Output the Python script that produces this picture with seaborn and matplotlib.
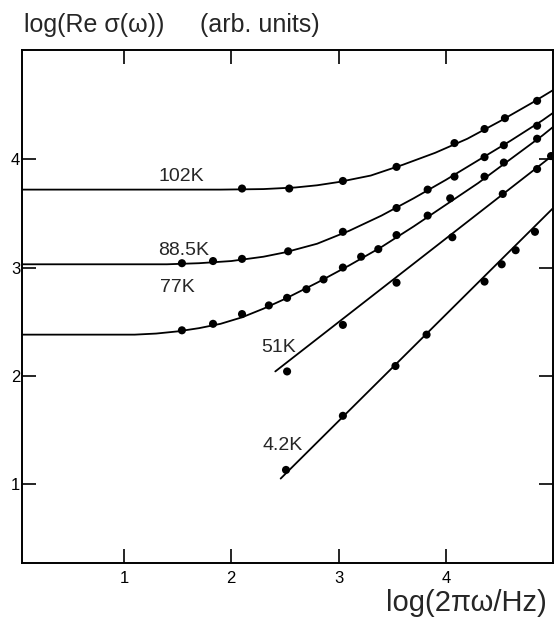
import matplotlib
matplotlib.use("Agg")
import matplotlib.pyplot as plt
import seaborn as sns

# measured points (log of angular frequency, log of conductivity)
x_102 = [2.10, 2.54, 3.04, 3.54, 4.08, 4.36, 4.55, 4.85]
y_102 = [3.73, 3.73, 3.80, 3.93, 4.15, 4.28, 4.38, 4.54]

x_885 = [1.54, 1.83, 2.10, 2.53, 3.04, 3.54, 3.83, 4.08, 4.36, 4.54, 4.85]
y_885 = [3.04, 3.06, 3.08, 3.15, 3.33, 3.55, 3.72, 3.84, 4.02, 4.13, 4.31]

x_77 = [1.54, 1.83, 2.10, 2.35, 2.52, 2.70, 2.86, 3.04, 3.21, 3.37, 3.54, 3.83, 4.04, 4.36, 4.54, 4.85]
y_77 = [2.42, 2.48, 2.57, 2.65, 2.72, 2.80, 2.89, 3.00, 3.10, 3.17, 3.30, 3.48, 3.64, 3.84, 3.97, 4.19]

x_51 = [2.52, 3.04, 3.54, 4.06, 4.53, 4.85, 4.98]
y_51 = [2.04, 2.47, 2.86, 3.28, 3.68, 3.91, 4.03]

x_42 = [2.51, 3.04, 3.53, 3.82, 4.36, 4.52, 4.65, 4.83]
y_42 = [1.13, 1.63, 2.09, 2.38, 2.87, 3.03, 3.16, 3.33]

# fitted curves
fx_102 = [0.05, 1.9, 2.3, 2.6, 2.8, 3.0, 3.3, 3.6, 3.9, 4.2, 4.5, 4.8, 5.0]
fy_102 = [3.72, 3.72, 3.725, 3.74, 3.76, 3.79, 3.85, 3.95, 4.06, 4.19, 4.35, 4.52, 4.64]

fx_885 = [0.05, 1.4, 1.7, 2.0, 2.3, 2.5, 2.8, 3.1, 3.4, 3.7, 4.0, 4.3, 4.6, 4.9, 5.0]
fy_885 = [3.03, 3.03, 3.04, 3.06, 3.10, 3.14, 3.22, 3.34, 3.48, 3.64, 3.81, 3.99, 4.17, 4.36, 4.43]

fx_77 = [0.05, 1.1, 1.3, 1.5, 1.7, 1.9, 2.1, 2.3, 2.5, 2.8, 3.1, 3.4, 3.7, 4.0, 4.3, 4.6, 4.9, 5.0]
fy_77 = [2.38, 2.38, 2.39, 2.41, 2.44, 2.48, 2.54, 2.62, 2.71, 2.86, 3.02, 3.19, 3.38, 3.58, 3.78, 4.00, 4.22, 4.30]

fx_51 = [2.41, 5.0]
fy_51 = [2.04, 4.04]

fx_42 = [2.46, 5.0]
fy_42 = [1.05, 3.55]

labels = ['102K', '88.5K', '77K', '51K', '4.2K']
label_x = [1.53, 1.56, 1.50, 2.44, 2.48]
label_y = [3.84, 3.16, 2.82, 2.26, 1.36]

x_ticks = [1, 2, 3, 4]
y_ticks = [1, 2, 3, 4]

sns.set_style("ticks")
plt.rcParams['font.family'] = ['Liberation Sans', 'DejaVu Sans']

fig = plt.figure(figsize=(5.56, 6.18), dpi=100)
ax = fig.add_axes([21.5 / 556, 55 / 618, (553.2 - 21.5) / 556, 513 / 618])

fits = [(fx_102, fy_102), (fx_885, fy_885), (fx_77, fy_77), (fx_51, fy_51), (fx_42, fy_42)]
for fx, fy in fits:
    sns.lineplot(x=fx, y=fy, color='black', lw=1.3, sort=False, estimator=None, ax=ax)

dots = [(x_102, y_102), (x_885, y_885), (x_77, y_77), (x_51, y_51), (x_42, y_42)]
for dx, dy in dots:
    sns.scatterplot(x=dx, y=dy, color='black', s=34, edgecolor='none', zorder=3, ax=ax)

for t, lx, ly in zip(labels, label_x, label_y):
    ax.text(lx, ly, t, fontsize=14, ha='center', va='center')

ax.set_xlim(0.045, 5.0)
ax.set_ylim(0.27, 5.01)
ax.set_xticks(x_ticks)
ax.set_yticks(y_ticks)
ax.tick_params(direction='in', length=10, width=1.2, top=True, right=True,
               labelsize=12, colors='black')
ax.tick_params(axis='y', pad=1)
ax.tick_params(axis='x', pad=6)
for s in ax.spines.values():
    s.set_visible(True)
    s.set_linewidth(1.4)
    s.set_color('black')

# axis titles sit outside the frame, as in the original figure
fig.text(24 / 556, 1 - 32 / 618, 'log(Re σ(ω))', fontsize=18, va='baseline', ha='left')
fig.text(200 / 556, 1 - 32 / 618, '(arb. units)', fontsize=18, va='baseline', ha='left')
fig.text(386 / 556, 1 - 611 / 618, 'log(2πω/Hz)', fontsize=21, va='baseline', ha='left')

fig.savefig('out.png', dpi=100)
